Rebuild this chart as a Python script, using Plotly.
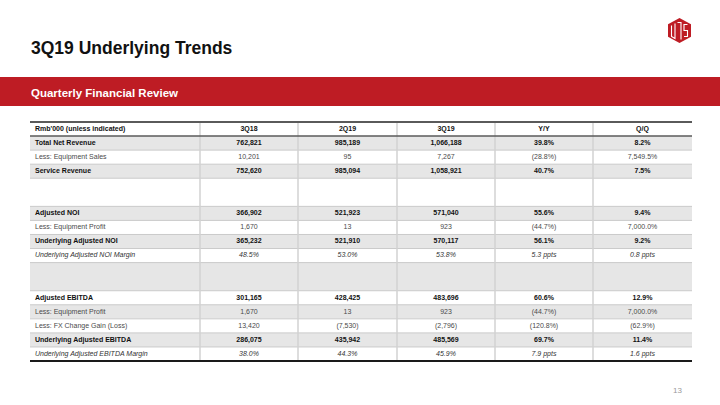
import plotly.graph_objects as go

# ---------------- data ----------------
header = ["Rmb'000 (unless indicated)", "3Q18", "2Q19", "3Q19", "Y/Y", "Q/Q"]
labels = ["Total Net Revenue", "Less: Equipment Sales", "Service Revenue", "",
          "Adjusted NOI", "Less: Equipment Profit", "Underlying Adjusted NOI",
          "Underlying Adjusted NOI Margin", "",
          "Adjusted EBITDA", "Less: Equipment Profit", "Less: FX Change Gain (Loss)",
          "Underlying Adjusted EBITDA", "Underlying Adjusted EBITDA Margin"]
row_style = ["b", "n", "b", "blank", "b", "n", "b", "i", "blank", "b", "n", "n", "b", "i"]
q3_18 = ["762,821", "10,201", "752,620", "", "366,902", "1,670", "365,232", "48.5%", "",
         "301,165", "1,670", "13,420", "286,075", "38.0%"]
q2_19 = ["985,189", "95", "985,094", "", "521,923", "13", "521,910", "53.0%", "",
         "428,425", "13", "(7,530)", "435,942", "44.3%"]
q3_19 = ["1,066,188", "7,267", "1,058,921", "", "571,040", "923", "570,117", "53.8%", "",
         "483,696", "923", "(2,796)", "485,569", "45.9%"]
yoy = ["39.8%", "(28.8%)", "40.7%", "", "55.6%", "(44.7%)", "56.1%", "5.3 ppts", "",
       "60.6%", "(44.7%)", "(120.8%)", "69.7%", "7.9 ppts"]
qoq = ["8.2%", "7,549.5%", "7.5%", "", "9.4%", "7,000.0%", "9.2%", "0.8 ppts", "",
       "12.9%", "7,000.0%", "(62.9%)", "11.4%", "1.6 ppts"]
columns = [labels, q3_18, q2_19, q3_19, yoy, qoq]

# ---------------- layout geometry ----------------
W, H = 720, 405
FONT = "Arial, Liberation Sans, sans-serif"
RED = "#BE1C24"
col_edges = [30, 200, 298, 397, 495, 593, 692]
table_top = 122
unit = 14.06
GRAY = "#E6E6E6"

shapes = []
annotations = []

# header band
shapes.append(dict(type="rect", xref="x", yref="y", x0=0, x1=W, y0=77, y1=106,
                   fillcolor=RED, line=dict(width=0), layer="below"))
annotations.append(dict(x=29, y=48, xref="x", yref="y", xanchor="left", yanchor="middle",
                        text="<b>3Q19 Underlying Trends</b>", showarrow=False,
                        font=dict(family=FONT, size=17.5, color="#111111")))
annotations.append(dict(x=29, y=92.5, xref="x", yref="y", xanchor="left", yanchor="middle",
                        text="<b>Quarterly Financial Review</b>", showarrow=False,
                        font=dict(family=FONT, size=11.5, color="#FFFFFF")))
annotations.append(dict(x=684, y=390, xref="x", yref="y", xanchor="right", yanchor="middle",
                        text="13", showarrow=False,
                        font=dict(family=FONT, size=8, color="#9A9A9A")))

# logo (hexagon with white strokes)
cx, cy, rw, rh = 679.5, 30.5, 11.5, 12.5
hexpath = (f"M{cx},{cy-rh} L{cx+rw},{cy-rh/2} L{cx+rw},{cy+rh/2} L{cx},{cy+rh} "
           f"L{cx-rw},{cy+rh/2} L{cx-rw},{cy-rh/2} Z")
shapes.append(dict(type="path", path=hexpath, xref="x", yref="y", fillcolor=RED,
                   line=dict(width=0), layer="above"))
wl = dict(color="white", width=1.1)
shapes.append(dict(type="path", xref="x", yref="y", line=wl, layer="above",
                   path=f"M{cx-8},{cy-5} L{cx-8},{cy+6} L{cx-4.5},{cy+8} L{cx-4.5},{cy-7}"))
shapes.append(dict(type="path", xref="x", yref="y", line=wl, layer="above",
                   path=f"M{cx-2},{cy-8} L{cx+1.5},{cy-8} L{cx+1.5},{cy+9}"))
shapes.append(dict(type="path", xref="x", yref="y", line=wl, layer="above",
                   path=f"M{cx+8},{cy-6} L{cx+4.5},{cy-6} L{cx+4.5},{cy} L{cx+8},{cy} L{cx+8},{cy+6} L{cx+4.5},{cy+6}"))

# rows geometry
heights = [unit] + [2 * unit if s == "blank" else unit for s in row_style]
tops = []
y = table_top
for h in heights:
    tops.append(y)
    y += h
table_bottom = y
centers = [t + h / 2 for t, h in zip(tops, heights)]

# row fills (header white, then alternating)
for i in range(len(row_style)):
    fill = GRAY if i % 2 == 0 else "#FFFFFF"
    shapes.append(dict(type="rect", xref="x", yref="y", x0=col_edges[0], x1=col_edges[-1],
                       y0=tops[i + 1], y1=tops[i + 1] + heights[i + 1],
                       fillcolor=fill, line=dict(width=0), layer="below"))
# horizontal separators
for i in range(2, len(tops)):
    shapes.append(dict(type="line", xref="x", yref="y", x0=col_edges[0], x1=col_edges[-1],
                       y0=tops[i], y1=tops[i], line=dict(color="#CACACA", width=1), layer="below"))
# vertical separators
for xe in col_edges[1:-1]:
    shapes.append(dict(type="line", xref="x", yref="y", x0=xe, x1=xe, y0=table_top, y1=table_bottom,
                       line=dict(color="#D2D2D2", width=1.5), layer="below"))
# header lines and bottom line
shapes.append(dict(type="line", xref="x", yref="y", x0=col_edges[0], x1=col_edges[-1],
                   y0=table_top, y1=table_top, line=dict(color="#5A5A5A", width=2), layer="below"))
shapes.append(dict(type="line", xref="x", yref="y", x0=col_edges[0], x1=col_edges[-1],
                   y0=tops[1], y1=tops[1], line=dict(color="#5A5A5A", width=1.5), layer="below"))
shapes.append(dict(type="line", xref="x", yref="y", x0=col_edges[0], x1=col_edges[-1],
                   y0=table_bottom, y1=table_bottom, line=dict(color="#1A1A1A", width=2), layer="below"))

fig = go.Figure()

def fmt(txt, style):
    if not txt:
        return ""
    if style == "b":
        return f"<b>{txt}</b>"
    if style == "i":
        return f"<i>{txt}</i>"
    return txt

color_map = {"b": "#111111", "n": "#4A4A4A", "i": "#333333", "blank": "#333333"}

for ci, col in enumerate(columns):
    if ci == 0:
        xs = [col_edges[0] + 5] * (len(col) + 1)
        pos = "middle right"
    else:
        xs = [(col_edges[ci] + col_edges[ci + 1]) / 2] * (len(col) + 1)
        pos = "middle center"
    texts = [f"<b>{header[ci]}</b>"] + [fmt(v, s) for v, s in zip(col, row_style)]
    colors = ["#111111"] + [color_map[s] for s in row_style]
    fig.add_trace(go.Scatter(x=xs, y=centers, mode="text", text=texts, textposition=pos,
                             textfont=dict(family=FONT, size=7, color=colors),
                             hoverinfo="skip", showlegend=False))

fig.update_layout(
    width=W, height=H, margin=dict(l=0, r=0, t=0, b=0),
    paper_bgcolor="white", plot_bgcolor="white",
    xaxis=dict(range=[0, W], visible=False, fixedrange=True),
    yaxis=dict(range=[H, 0], visible=False, fixedrange=True),
    shapes=shapes, annotations=annotations,
)
fig.write_html("out.html", config={"displayModeBar": False},
               post_script="document.body.style.margin='0';document.body.style.overflow='hidden';")
